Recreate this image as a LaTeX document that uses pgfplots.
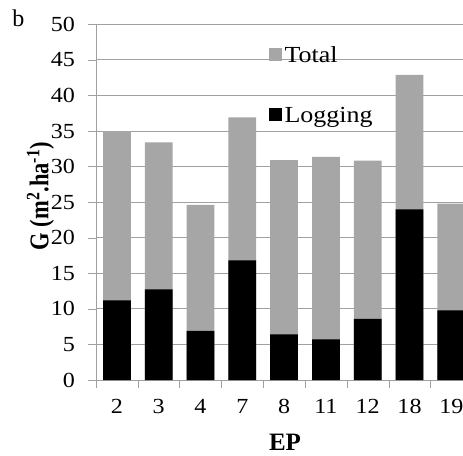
\documentclass[border=0pt]{standalone}
\usepackage{fontspec}
\setmainfont{Liberation Serif}
\newfontfamily\tickfont[FakeStretch=1.12]{Liberation Serif}
\newfontfamily\legfont[FakeStretch=1.13]{Liberation Serif}
\usepackage{pgfplots}
\pgfplotsset{compat=1.18}
\definecolor{bargray}{RGB}{166,166,166}
\definecolor{linegray}{RGB}{160,160,160}
\begin{document}
\begin{tikzpicture}
\begin{axis}[
  name=ax,
  scale only axis,
  width=367pt, height=355.7pt,
  xmin=-0.5, xmax=8.28,
  ymin=0, ymax=50,
  ytick={0,5,...,50},
  xtick={0,...,8},
  xticklabels={2,3,4,7,8,11,12,18,19},
  minor xtick={-0.5,0.5,...,7.5},
  major x tick style={draw=none},
  minor x tick style={draw=linegray},
  tick align=outside,
  major tick length=8pt,
  minor tick length=8pt,
  y tick style={draw=linegray},
  axis x line*=bottom,
  axis y line*=left,
  axis line style={draw=linegray, line width=0.8pt},
  ymajorgrids,
  grid style={draw=linegray, line width=0.8pt},
  /pgf/number format/assume math mode=true,
  yticklabel={\pgfmathprintnumber[assume math mode=true]{\tick}},
  ticklabel style={font=\tickfont\fontsize{21.5}{25}\selectfont},
  yticklabel style={xshift=-9.5pt},
  xticklabel style={yshift=-7.5pt},
  xlabel={\textbf{EP}},
  ylabel={\textbf{G (m\textsuperscript{2}.ha\textsuperscript{-1})}},
  xlabel style={font=\fontsize{25}{28}\selectfont, at={(rel axis cs:0,0)}, anchor=center, xshift=189pt, yshift=-62pt},
  ylabel style={font=\fontsize{22.5}{27}\selectfont, at={(rel axis cs:0,0.5)}, anchor=center, yshift=55.5pt, xshift=6pt, yscale=1.2, transform shape},
  legend style={draw=none, fill=none, at={(rel axis cs:0.471,0.943)}, anchor=north west,
    font=\legfont\fontsize{23}{27}\selectfont, row sep=39pt, inner sep=0pt,
    nodes={inner xsep=3pt}},
  legend cell align=left,
  legend image code/.code={\fill[#1,draw=none] (0pt,-5.5pt) rectangle (12.5pt,7.5pt);},
]
\addplot[ybar, bar width=0.663, bar shift=0pt, fill=bargray, draw=none]
  coordinates {(0,35) (1,33.4) (2,24.6) (3,36.9) (4,30.9) (5,31.35) (6,30.85) (7,42.9) (8,24.8)};
\addlegendentry{Total}
\addplot[ybar, bar width=0.663, bar shift=0pt, fill=black, draw=none]
  coordinates {(0,11.2) (1,12.75) (2,6.9) (3,16.8) (4,6.4) (5,5.7) (6,8.6) (7,24.0) (8,9.8)};
\addlegendentry{Logging}
\end{axis}
\node[anchor=base, font=\fontsize{24}{28}\selectfont, inner sep=0pt] at ([xshift=-77.5pt,yshift=-2.7pt]ax.north west) {b};
\pgfresetboundingbox
\path ([xshift=-96pt,yshift=-75pt]ax.south west) rectangle ([yshift=24.3pt]ax.north east);
\end{tikzpicture}
\end{document}
